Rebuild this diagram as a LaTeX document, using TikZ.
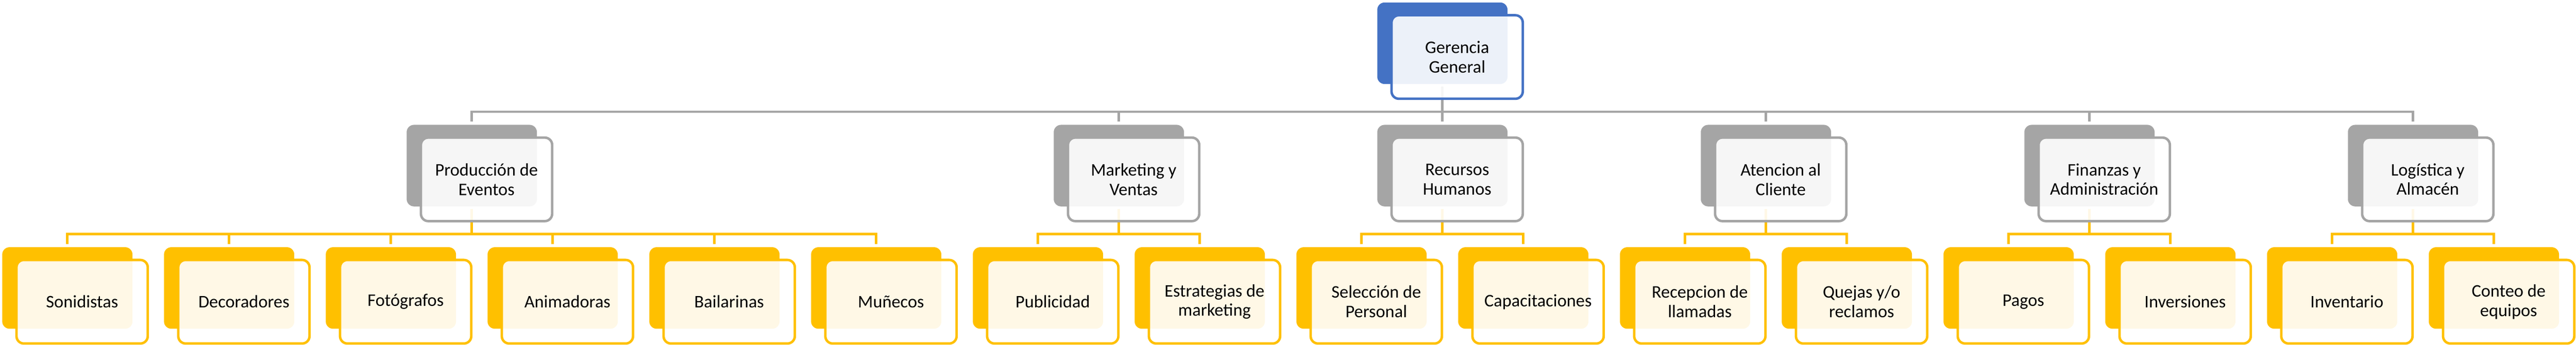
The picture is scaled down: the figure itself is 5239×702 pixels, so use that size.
\documentclass[tikz,border=0pt]{standalone}
\usepackage{fontspec}
\setmainfont{Carlito}
\usetikzlibrary{calc, backgrounds}

\definecolor{accent_blue}{HTML}{4472C4}
\definecolor{accent_gray}{HTML}{A5A5A5}
\definecolor{accent_gold}{HTML}{FFC000}

\tikzset{
    shadow_box/.style={rectangle, rounded corners=.3cm, inner sep=0pt,
        minimum width=5.3cm, minimum height=3.32cm},
    label_box/.style={rectangle, rounded corners=.3cm, inner sep=0pt,
        minimum width=5.34cm, minimum height=3.4cm, line width=.1cm,
        fill=white, fill opacity=.9, text opacity=1, align=center,
        font=\fontsize{20.5}{22.5}\selectfont},
    link/.style={line width=.1cm, shorten <=.1cm, shorten >=.12cm}
}

\begin{document}
\begin{tikzpicture}[x=.02cm, y=-.02cm,
    head_shadow/.style={shadow_box, fill=accent_blue},
    head_box/.style={label_box, draw=accent_blue},
    area_shadow/.style={shadow_box, fill=accent_gray},
    area_box/.style={label_box, draw=accent_gray},
    team_shadow/.style={shadow_box, fill=accent_gold},
    team_box/.style={label_box, draw=accent_gold},
    area_link/.style={link, draw=accent_gray},
    team_link/.style={link, draw=accent_gold}]

    \useasboundingbox (0, 0) rectangle (5239, 702);

    % Gerencia
    \node (gerencia_general) at (2933.5, 88) [head_shadow] {};
    \node (gerencia_general_label) at ($(gerencia_general) + (30, 28)$)
        [head_box] {Gerencia\\General};

    % Areas
    \node (produccion_eventos) at ($(gerencia_general) + (-1974, 249)$) [area_shadow] {};
    \node (produccion_eventos_label) at ($(produccion_eventos) + (30, 28)$)
        [area_box] {Producción de\\Eventos};
    \node (marketing_ventas) at ($(gerencia_general) + (-658, 249)$) [area_shadow] {};
    \node (marketing_ventas_label) at ($(marketing_ventas) + (30, 28)$)
        [area_box] {Marketing y\\Ventas};
    \node (recursos_humanos) at ($(gerencia_general) + (0, 249)$) [area_shadow] {};
    \node (recursos_humanos_label) at ($(recursos_humanos) + (30, 28)$)
        [area_box] {Recursos\\Humanos};
    \node (atencion_cliente) at ($(gerencia_general) + (658, 249)$) [area_shadow] {};
    \node (atencion_cliente_label) at ($(atencion_cliente) + (30, 28)$)
        [area_box] {Atencion al\\Cliente};
    \node (finanzas_administracion) at ($(gerencia_general) + (1316, 249)$) [area_shadow] {};
    \node (finanzas_administracion_label) at ($(finanzas_administracion) + (30, 28)$)
        [area_box] {Finanzas y\\Administración};
    \node (logistica_almacen) at ($(gerencia_general) + (1974, 249)$) [area_shadow] {};
    \node (logistica_almacen_label) at ($(logistica_almacen) + (30, 28)$)
        [area_box] {Logística y\\Almacén};

    % Equipos de produccion
    \node (sonidistas) at ($(produccion_eventos) + (-822.5, 249)$) [team_shadow] {};
    \node (sonidistas_label) at ($(sonidistas) + (30, 28)$) [team_box] {Sonidistas};
    \node (decoradores) at ($(produccion_eventos) + (-493.5, 249)$) [team_shadow] {};
    \node (decoradores_label) at ($(decoradores) + (30, 28)$) [team_box] {Decoradores};
    \node (fotografos) at ($(produccion_eventos) + (-164.5, 249)$) [team_shadow] {};
    \node (fotografos_label) at ($(fotografos) + (30, 28)$) [team_box] {Fotógrafos};
    \node (animadoras) at ($(produccion_eventos) + (164.5, 249)$) [team_shadow] {};
    \node (animadoras_label) at ($(animadoras) + (30, 28)$) [team_box] {Animadoras};
    \node (bailarinas) at ($(produccion_eventos) + (493.5, 249)$) [team_shadow] {};
    \node (bailarinas_label) at ($(bailarinas) + (30, 28)$) [team_box] {Bailarinas};
    \node (munecos) at ($(produccion_eventos) + (822.5, 249)$) [team_shadow] {};
    \node (munecos_label) at ($(munecos) + (30, 28)$) [team_box] {Muñecos};

    % Equipos de las otras areas
    \node (publicidad) at ($(marketing_ventas) + (-164.5, 249)$) [team_shadow] {};
    \node (publicidad_label) at ($(publicidad) + (30, 28)$) [team_box] {Publicidad};
    \node (estrategias) at ($(marketing_ventas) + (164.5, 249)$) [team_shadow] {};
    \node (estrategias_label) at ($(estrategias) + (30, 28)$) [team_box] {Estrategias de\\marketing};
    \node (seleccion) at ($(recursos_humanos) + (-164.5, 249)$) [team_shadow] {};
    \node (seleccion_label) at ($(seleccion) + (30, 28)$) [team_box] {Selección de\\Personal};
    \node (capacitaciones) at ($(recursos_humanos) + (164.5, 249)$) [team_shadow] {};
    \node (capacitaciones_label) at ($(capacitaciones) + (30, 28)$) [team_box] {Capacitaciones};
    \node (recepcion) at ($(atencion_cliente) + (-164.5, 249)$) [team_shadow] {};
    \node (recepcion_label) at ($(recepcion) + (30, 28)$) [team_box] {Recepcion de\\llamadas};
    \node (quejas) at ($(atencion_cliente) + (164.5, 249)$) [team_shadow] {};
    \node (quejas_label) at ($(quejas) + (30, 28)$) [team_box] {Quejas y/o\\reclamos};
    \node (pagos) at ($(finanzas_administracion) + (-164.5, 249)$) [team_shadow] {};
    \node (pagos_label) at ($(pagos) + (30, 28)$) [team_box] {Pagos};
    \node (inversiones) at ($(finanzas_administracion) + (164.5, 249)$) [team_shadow] {};
    \node (inversiones_label) at ($(inversiones) + (30, 28)$) [team_box] {Inversiones};
    \node (inventario) at ($(logistica_almacen) + (-164.5, 249)$) [team_shadow] {};
    \node (inventario_label) at ($(inventario) + (30, 28)$) [team_box] {Inventario};
    \node (conteo) at ($(logistica_almacen) + (164.5, 249)$) [team_shadow] {};
    \node (conteo_label) at ($(conteo) + (30, 28)$) [team_box] {Conteo de\\equipos};

    % Connectors
    \begin{scope}[on background layer]
        \draw [area_link] (gerencia_general.south) -- ++(0, 56) -| (produccion_eventos.north);
        \draw [area_link] (gerencia_general.south) -- ++(0, 56) -| (marketing_ventas.north);
        \draw [area_link] (gerencia_general.south) -- ++(0, 56) -| (recursos_humanos.north);
        \draw [area_link] (gerencia_general.south) -- ++(0, 56) -| (atencion_cliente.north);
        \draw [area_link] (gerencia_general.south) -- ++(0, 56) -| (finanzas_administracion.north);
        \draw [area_link] (gerencia_general.south) -- ++(0, 56) -| (logistica_almacen.north);

        \draw [team_link] (produccion_eventos.south) -- ++(0, 56) -| (sonidistas.north);
        \draw [team_link] (produccion_eventos.south) -- ++(0, 56) -| (decoradores.north);
        \draw [team_link] (produccion_eventos.south) -- ++(0, 56) -| (fotografos.north);
        \draw [team_link] (produccion_eventos.south) -- ++(0, 56) -| (animadoras.north);
        \draw [team_link] (produccion_eventos.south) -- ++(0, 56) -| (bailarinas.north);
        \draw [team_link] (produccion_eventos.south) -- ++(0, 56) -| (munecos.north);
        \draw [team_link] (marketing_ventas.south) -- ++(0, 56) -| (publicidad.north);
        \draw [team_link] (marketing_ventas.south) -- ++(0, 56) -| (estrategias.north);
        \draw [team_link] (recursos_humanos.south) -- ++(0, 56) -| (seleccion.north);
        \draw [team_link] (recursos_humanos.south) -- ++(0, 56) -| (capacitaciones.north);
        \draw [team_link] (atencion_cliente.south) -- ++(0, 56) -| (recepcion.north);
        \draw [team_link] (atencion_cliente.south) -- ++(0, 56) -| (quejas.north);
        \draw [team_link] (finanzas_administracion.south) -- ++(0, 56) -| (pagos.north);
        \draw [team_link] (finanzas_administracion.south) -- ++(0, 56) -| (inversiones.north);
        \draw [team_link] (logistica_almacen.south) -- ++(0, 56) -| (inventario.north);
        \draw [team_link] (logistica_almacen.south) -- ++(0, 56) -| (conteo.north);
    \end{scope}
\end{tikzpicture}
\end{document}
